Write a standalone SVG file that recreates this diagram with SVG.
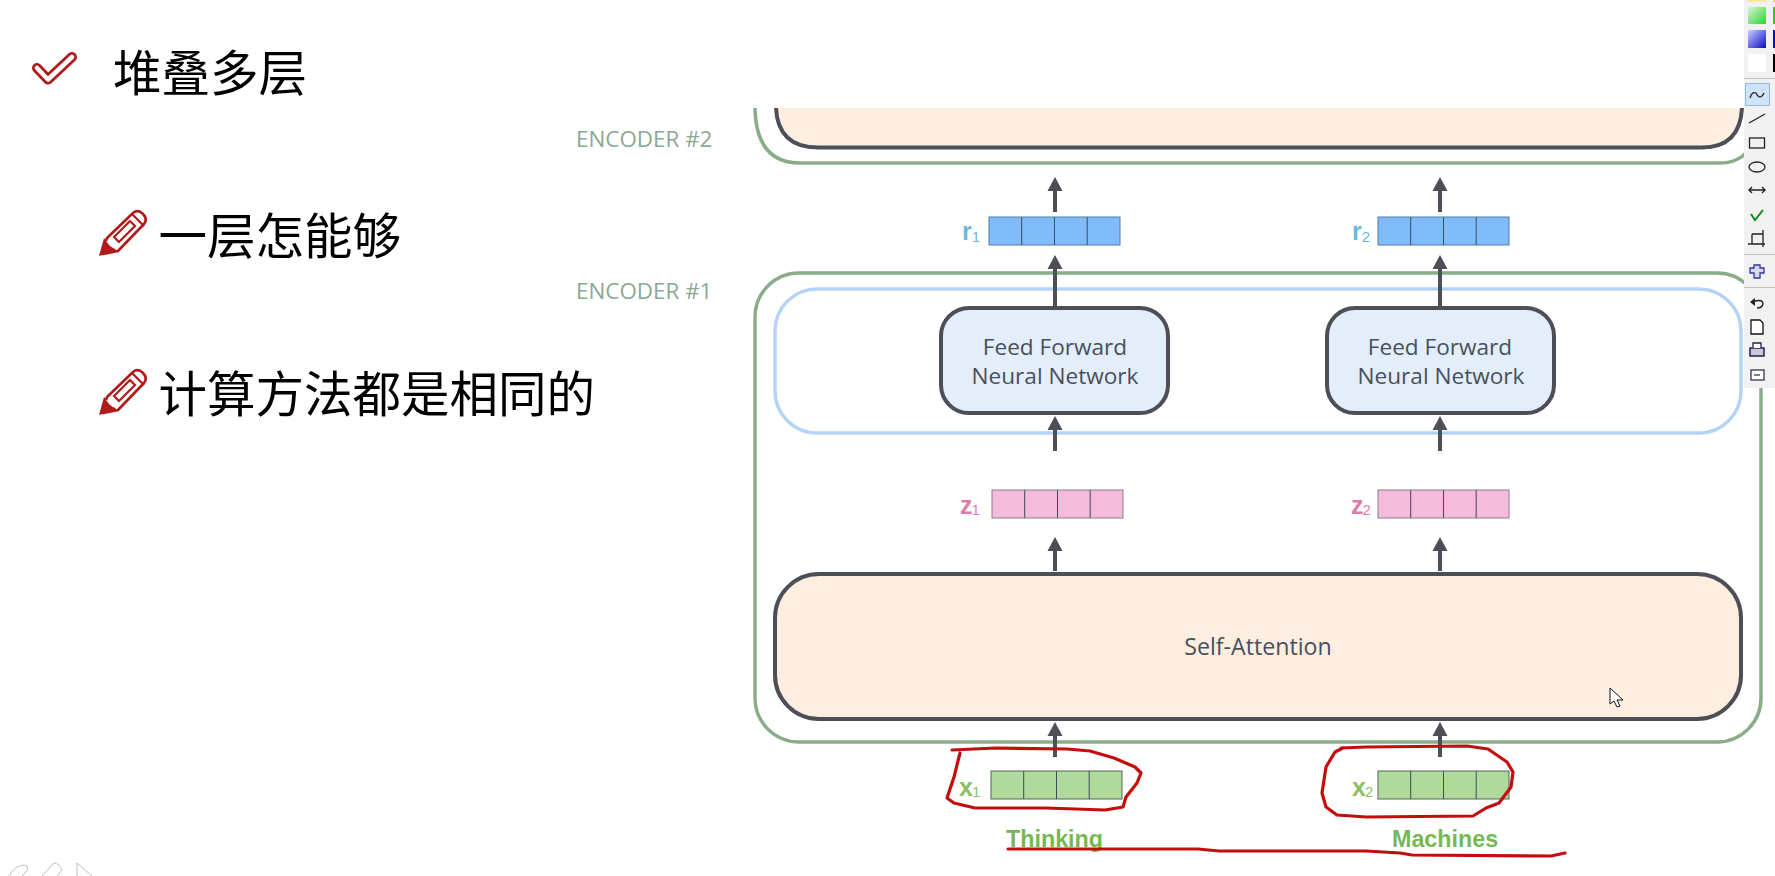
<svg xmlns="http://www.w3.org/2000/svg" width="1775" height="876" viewBox="0 0 1775 876">
<style>
.cjk{font-family:"Noto Sans CJK SC","Liberation Sans",sans-serif;font-size:48.5px;fill:#000}
.enc{font-family:"Open Sans",sans-serif;font-size:22.4px;font-weight:500;fill:#8ba892}
.lbl{font-family:"Open Sans",sans-serif;font-size:22.6px;font-weight:500;fill:#47505c;text-anchor:middle}
.sal{font-size:23.2px}
.green{fill:none;stroke:#8aac88;stroke-width:3.5}
.blue{fill:none;stroke:#b5d3f6;stroke-width:3.5}
.ff{fill:#e3eefa;stroke:#4c4e58;stroke-width:4}
.sa{fill:#fdeee0;stroke:#4c4e58;stroke-width:4}
.vec{font-family:"Liberation Sans",sans-serif;font-weight:bold;font-size:25px}
.sub{font-weight:normal;font-size:15px}
.word{font-family:"Liberation Sans",sans-serif;font-weight:bold;font-size:23.3px;fill:#76b851}
.arrow{stroke:#4c4e58;stroke-width:4;fill:none;marker-end:url(#head)}
.red{fill:none;stroke:#c40d0d;stroke-width:3.2;stroke-linejoin:round;stroke-linecap:round}
.tb{fill:none;stroke:#222;stroke-width:1.3}
.faint{fill:none;stroke:#bdbdbd;stroke-width:1}
</style>
<defs>
<marker id="head" markerUnits="userSpaceOnUse" markerWidth="14" markerHeight="16" refX="0" refY="8" orient="auto" viewBox="0 0 14 16">
<path d="M0 0.5 L14 8 L0 15.5 Z" fill="#4c4e58"/>
</marker>
<g id="pencil">
<path d="M4 44 L8 28 L34 3 Q39 -1 44 4 Q49 9 45 14 L19 41 Z" fill="#fff" stroke="#b01a1a" stroke-width="2.6" stroke-linejoin="round"/>
<path d="M0 46 L5 28 L18 41 Z" fill="#b01a1a"/>
<path d="M33 4 L45 16 M15 27 L31 11 L36 16 L20 32 Z" fill="none" stroke="#b01a1a" stroke-width="2.2"/>
<path d="M8 31 L11 35 L15 38" fill="none" stroke="#fff" stroke-width="1.5"/>
</g>
<g id="vec4">
<rect x="0" y="0" width="131" height="28" stroke-width="1"/>
<path d="M32.7 0V28M65.5 0V28M98.2 0V28" fill="none" stroke="#3d4c5c" stroke-width="1"/>
</g>
<linearGradient id="gg" x1="0" y1="0" x2="1" y2="1"><stop offset="0" stop-color="#d8f8d8"/><stop offset="1" stop-color="#2fd02f"/></linearGradient>
<linearGradient id="gb" x1="0" y1="0" x2="1" y2="1"><stop offset="0" stop-color="#cfd0ff"/><stop offset="1" stop-color="#0808c8"/></linearGradient>
</defs>
<rect width="1775" height="876" fill="#fff"/>

<g id="title">
<polyline points="37,68 48,79.5 72,57" fill="none" stroke="#b01a1a" stroke-width="10" stroke-linejoin="round" stroke-linecap="round"/>
<polyline points="37,68 48,79.5 72,57" fill="none" stroke="#fff" stroke-width="4.5" stroke-linejoin="round" stroke-linecap="round"/>
<text class="cjk" x="113" y="91">堆叠多层</text>
</g>
<g id="bullet1">
<use href="#pencil" x="99" y="210"/>
<text class="cjk" x="158.5" y="254">一层怎能够</text>
</g>
<g id="bullet2">
<use href="#pencil" x="99" y="369"/>
<text class="cjk" x="158.5" y="412">计算方法都是相同的</text>
</g>

<g id="encoder2">
<path class="sa" d="M776 108 Q778 147.5 818 147.5 H1702 Q1740 147.5 1742 108" stroke-width="4"/>
<path class="green" d="M755 108 Q756 163 800 163 H1720 Q1758 163 1761 108"/>
<text class="enc" x="576" y="147">ENCODER #2</text>
</g>
<g id="encoder1">
<rect class="green" x="755" y="273" width="1006" height="469" rx="44"/>
<text class="enc" x="576" y="299">ENCODER #1</text>
</g>
<g id="ffn-layer"><rect class="blue" x="775" y="289" width="966" height="144" rx="42"/></g>
<g id="r1">
<use href="#vec4" x="989" y="217" fill="#80bbfb" stroke="#4f7ea8"/>
<text class="vec" x="962" y="240" fill="#6cb8dc">r<tspan class="sub" dy="2">1</tspan></text>
</g>
<g id="r2">
<use href="#vec4" x="1378" y="217" fill="#80bbfb" stroke="#4f7ea8"/>
<text class="vec" x="1352" y="240" fill="#6cb8dc">r<tspan class="sub" dy="2">2</tspan></text>
</g>
<g id="z1">
<use href="#vec4" x="992" y="490" fill="#f4bbdb" stroke="#8a7a90"/>
<text class="vec" x="960" y="514" fill="#e07cab">z<tspan class="sub" dy="1" dx="-1">1</tspan></text>
</g>
<g id="z2">
<use href="#vec4" x="1378" y="490" fill="#f4bbdb" stroke="#8a7a90"/>
<text class="vec" x="1351" y="514" fill="#e07cab">z<tspan class="sub" dy="1" dx="-1">2</tspan></text>
</g>
<g id="x1">
<use href="#vec4" x="991" y="771" fill="#b0da9c" stroke="#55625a"/>
<text class="vec" x="959" y="796" fill="#8cc063">x<tspan class="sub" dy="1" dx="-1">1</tspan></text>
</g>
<g id="x2">
<use href="#vec4" x="1378" y="771" fill="#b0da9c" stroke="#55625a"/>
<text class="vec" x="1352" y="796" fill="#8cc063">x<tspan class="sub" dy="1" dx="-1">2</tspan></text>
</g>
<g id="ffn1">
<rect class="ff" x="941" y="308" width="227" height="105" rx="28"/>
<text class="lbl" x="1055" y="355">Feed Forward</text>
<text class="lbl" x="1055" y="384">Neural Network</text>
</g>
<g id="ffn2">
<rect class="ff" x="1327" y="308" width="227" height="105" rx="28"/>
<text class="lbl" x="1440" y="355">Feed Forward</text>
<text class="lbl" x="1441" y="384">Neural Network</text>
</g>
<g id="self-attention">
<rect class="sa" x="775" y="574" width="966" height="145" rx="44"/>
<text class="lbl sal" x="1258" y="655">Self-Attention</text>
</g>
<g id="words">
<text class="word" x="1006" y="847">Thinking</text>
<text class="word" x="1392" y="847">Machines</text>
</g>

<g id="connectors">
<path class="arrow" d="M1055 212V191"/>
<path class="arrow" d="M1440 212V191"/>
<path class="arrow" d="M1055 308V269"/>
<path class="arrow" d="M1440 308V269"/>
<path class="arrow" d="M1055 451V430"/>
<path class="arrow" d="M1440 451V430"/>
<path class="arrow" d="M1055 571V551"/>
<path class="arrow" d="M1440 571V551"/>
<path class="arrow" d="M1055 757V736"/>
<path class="arrow" d="M1440 757V736"/>
</g>

<g id="annotations">
<path class="red" d="M952 750 L996 748 L1067 749 L1090 751 L1114 758 L1135 767 L1141 773 L1137 783 L1126 797 L1123 807 L1105 810 L1046 808 L975 808 L954 803 L947 798 L954 777 L960 753"/>
<path class="red" d="M1341 748 L1366 747 L1467 746 L1488 749 L1507 762 L1513 772 L1511 787 L1505 795 L1499 803 L1486 808 L1473 816 L1366 817 L1337 815 L1326 807 L1322 793 L1326 767 L1335 752 L1343 748"/>
<path class="red" d="M1008 849 L1198 849 L1219 851 L1366 851 L1400 853 L1412 855 L1551 856 L1565 853"/>
</g>

<g id="cursor">
<path d="M1610 688 L1610 704 L1614 701 L1617 707 L1620 706 L1617 700 L1623 700 Z" fill="#fff" stroke="#111" stroke-width="1"/>
</g>

<g id="slide-tools">
<path class="faint" d="M9 876 Q14 866 24 865 Q31 867 25 873 L22 876"/>
<path class="faint" d="M42 876 L54 863 Q60 864 62 870 L57 876"/>
<path class="faint" d="M77 876 V863 L92 876"/>
</g>

<g id="toolbar">
<rect x="1744" y="0" width="31" height="388" fill="#f1f1f1"/>
<rect x="1748" y="0" width="18" height="2" fill="#f8e9a0"/>
<rect x="1773" y="0" width="2" height="2" fill="#f0e060"/>
<rect x="1748" y="7" width="18" height="17" fill="url(#gg)"/>
<rect x="1773" y="7" width="2" height="17" fill="#10e010"/>
<rect x="1748" y="30" width="18" height="18" fill="url(#gb)"/>
<rect x="1773" y="30" width="2" height="18" fill="#0808e0"/>
<rect x="1748" y="54" width="18" height="18" fill="#fff"/>
<rect x="1773" y="54" width="2" height="18" fill="#000"/>
<path d="M1744 78.5H1775M1744 254.5H1775M1744 287.5H1775" stroke="#c4c4c4" stroke-width="1"/>
<rect x="1745.5" y="83.5" width="24" height="22" fill="#cfe2f6" stroke="#8fbbe2" stroke-width="1"/>
<path class="tb" d="M1750 98 Q1752 91 1756 93 Q1760 101 1764 93"/>
<path class="tb" d="M1749 123 L1765 114"/>
<rect class="tb" x="1749.5" y="138" width="15" height="10"/>
<ellipse class="tb" cx="1757" cy="167" rx="8" ry="5"/>
<path class="tb" d="M1749 190H1765M1752 187L1749 190L1752 193M1762 187L1765 190L1762 193"/>
<path d="M1751 214 L1755 220 L1763 210" fill="none" stroke="#0e8c17" stroke-width="2"/>
<path class="tb" d="M1748 244H1765M1763 230V247M1752 234V244M1752 234H1763"/>
<path d="M1754 265H1760V268H1764V273H1760V278H1754V273H1750V268H1754Z" fill="#d8d8f4" stroke="#33339a" stroke-width="1.3"/>
<path d="M1750 302 L1755 298 V306 Z" fill="#222"/>
<path d="M1755 301 Q1763 299 1763 304 Q1762 308 1757 308" fill="none" stroke="#222" stroke-width="1.4"/>
<path d="M1751 320H1760L1763 323V334H1751Z" fill="#fff" stroke="#111" stroke-width="1.3"/>
<path d="M1750 348H1764V356H1750Z" fill="#c8c8dc" stroke="#22224a" stroke-width="1.5"/>
<path d="M1753 348V343H1761V348" fill="#fff" stroke="#22224a" stroke-width="1.3"/>
<rect x="1751" y="370" width="13" height="10" fill="#fff" stroke="#33335a" stroke-width="1.3"/>
<path d="M1754 375H1760" stroke="#33335a" stroke-width="1.3"/>
</g>
</svg>
